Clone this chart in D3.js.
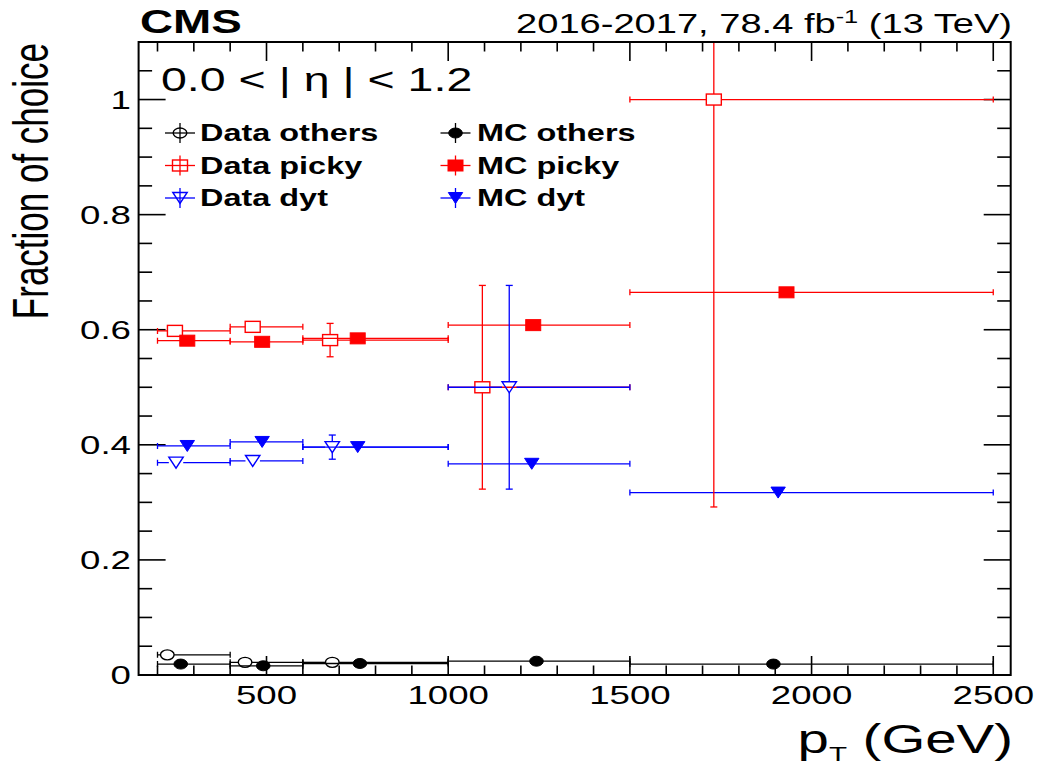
<!DOCTYPE html>
<html>
<head>
<meta charset="utf-8">
<script src="https://cdn.jsdelivr.net/npm/d3@7"></script>
<style>
  html, body { margin: 0; padding: 0; background: #fff; }
  svg { display: block; }
  text { font-family: "Liberation Sans", Arial, Helvetica, sans-serif; }
</style>
</head>
<body>
<svg id="chart" width="1039" height="768"></svg>
<script>
// pT bins (GeV)
const binLow  = [200, 400, 600, 1000, 1500];
const binHigh = [400, 600, 1000, 1500, 2500];

// Data: fraction of muons where each refit was chosen
const dataOthersX   = [227, 441, 681];
const dataOthersY   = [0.035, 0.022, 0.022];
const dataOthersErr = [0.004, 0.004, 0.006];

const dataPickyX   = [248, 462, 675, 1094, 1731];
const dataPickyY   = [0.598, 0.605, 0.582, 0.5, 1.0];
const dataPickyErr = [0.008, 0.008, 0.029, 0.177, 0.708];

const dataDytX   = [251, 462, 681, 1168];
const dataDytY   = [0.369, 0.372, 0.396, 0.5];
const dataDytErr = [0.008, 0.008, 0.021, 0.177];

// Simulation
const mcOthersX = [264, 491, 757, 1243, 1895];
const mcOthersY = [0.019, 0.016, 0.020, 0.024, 0.019];

const mcPickyX = [282, 488, 751, 1234, 1931];
const mcPickyY = [0.581, 0.579, 0.585, 0.608, 0.665];

const mcDytX = [282, 488, 751, 1230, 1908];
const mcDytY = [0.398, 0.405, 0.396, 0.367, 0.317];

// Axis ticks
const xMajorTicks = [500, 1000, 1500, 2000, 2500];
const yMajorTicks = [0, 0.2, 0.4, 0.6, 0.8, 1];
const yTickLabels = ["0", "0.2", "0.4", "0.6", "0.8", "1"];

const RED = "#ff0000", BLUE = "#0000ff", BLACK = "#000000";
const SX = 1.41;   // horizontal text/marker stretch of the canvas

const svg = d3.select("#chart");
const L = 138.6, R = 1010.7, T = 42, B = 675;

const x = d3.scaleLinear().domain([148, 2548]).range([L, R]);
const y = d3.scaleLinear().domain([0, 1.1]).range([B, T]);

svg.append("defs").append("clipPath").attr("id", "frameClip")
  .append("rect").attr("x", L).attr("y", T).attr("width", R - L).attr("height", B - T);

// ---- ticks (inward, on all four sides) ----
const tickG = svg.append("g").attr("stroke", BLACK).attr("stroke-width", 1.6);
const xMinor = d3.range(200, 2501, 100).filter(v => !xMajorTicks.includes(v));
const yMinor = d3.range(0.05, 1.1, 0.05).map(v => +v.toFixed(2)).filter(v => !yMajorTicks.some(m => Math.abs(m - v) < 1e-6));

function xTick(v, len) {
  tickG.append("line").attr("x1", x(v)).attr("x2", x(v)).attr("y1", B).attr("y2", B - len);
  tickG.append("line").attr("x1", x(v)).attr("x2", x(v)).attr("y1", T).attr("y2", T + len);
}
function yTick(v, len) {
  tickG.append("line").attr("x1", L).attr("x2", L + len).attr("y1", y(v)).attr("y2", y(v));
  tickG.append("line").attr("x1", R).attr("x2", R - len).attr("y1", y(v)).attr("y2", y(v));
}
xMajorTicks.forEach(v => xTick(v, 19));
xMinor.forEach(v => xTick(v, 9.5));
yMajorTicks.forEach(v => yTick(v, 27));
yMinor.forEach(v => yTick(v, 13.5));

// ---- stretched text helper ----
function label(g, str, px, py, size, anchor, weight) {
  return g.append("text")
    .attr("transform", `translate(${px},${py}) scale(${SX},1)`)
    .attr("text-anchor", anchor || "start")
    .attr("font-size", size)
    .attr("font-weight", weight || "normal")
    .attr("fill", BLACK)
    .text(str);
}

const textG = svg.append("g");
xMajorTicks.forEach(v => label(textG, String(v), x(v), 704, 26, "middle"));
yMajorTicks.forEach((v, i) => label(textG, yTickLabels[i], 131, y(v) + 9, 26, "end"));

// ---- marker shapes ----
const MK = {
  circle:   { hw: 6.8, hh: 5 },
  square:   { hw: 7.5, hh: 5.5 },
  triangle: { hw: 7.2, hh: 5.5 }
};
function marker(g, type, cx, cy, color, filled) {
  const m = MK[type];
  let el;
  if (type === "circle") {
    el = g.append("ellipse").attr("cx", cx).attr("cy", cy).attr("rx", m.hw).attr("ry", m.hh);
  } else if (type === "square") {
    el = g.append("rect").attr("x", cx - m.hw).attr("y", cy - m.hh).attr("width", 2 * m.hw).attr("height", 2 * m.hh);
  } else {
    el = g.append("path").attr("d", `M${cx - m.hw},${cy - m.hh}L${cx + m.hw},${cy - m.hh}L${cx},${cy + m.hh}Z`);
  }
  el.attr("fill", filled ? color : "none")
    .attr("stroke", color)
    .attr("stroke-width", filled ? 1 : 1.4);
}

// ---- series drawing ----
const plotG = svg.append("g").attr("clip-path", "url(#frameClip)");

function seg(g, x1, y1, x2, y2, color) {
  if (Math.abs(x2 - x1) < 0.5 && Math.abs(y2 - y1) < 0.5) return;
  g.append("line").attr("x1", x1).attr("y1", y1).attr("x2", x2).attr("y2", y2)
    .attr("stroke", color).attr("stroke-width", 1.3);
}

function drawSeries(xs, ys, errs, color, type, filled) {
  const g = plotG.append("g");
  const m = MK[type];
  const gapW = filled ? 0 : m.hw, gapH = filled ? 0 : m.hh;
  xs.forEach((xv, i) => {
    const cx = x(xv), cy = y(ys[i]);
    const xl = x(binLow[i]), xh = x(binHigh[i]);
    // horizontal (bin width) error with end caps
    seg(g, xl, cy, cx - gapW, cy, color);
    seg(g, cx + gapW, cy, xh, cy, color);
    seg(g, xl, cy - 3, xl, cy + 3, color);
    seg(g, xh, cy - 3, xh, cy + 3, color);
    // vertical (statistical) error with end caps
    if (errs) {
      const yt = y(ys[i] + errs[i]), yb = y(ys[i] - errs[i]);
      if (cy - yt > gapH + 0.5) {
        seg(g, cx, yt, cx, cy - gapH, color);
        seg(g, cx - 3.5, yt, cx + 3.5, yt, color);
      }
      if (yb - cy > gapH + 0.5) {
        seg(g, cx, cy + gapH, cx, yb, color);
        seg(g, cx - 3.5, yb, cx + 3.5, yb, color);
      }
    }
    marker(g, type, cx, cy, color, filled);
  });
}

drawSeries(mcOthersX, mcOthersY, null, BLACK, "circle", true);
drawSeries(mcPickyX, mcPickyY, null, RED, "square", true);
drawSeries(mcDytX, mcDytY, null, BLUE, "triangle", true);
drawSeries(dataOthersX, dataOthersY, dataOthersErr, BLACK, "circle", false);
drawSeries(dataPickyX, dataPickyY, dataPickyErr, RED, "square", false);
drawSeries(dataDytX, dataDytY, dataDytErr, BLUE, "triangle", false);

// ---- frame ----
svg.append("rect").attr("x", L).attr("y", T).attr("width", R - L).attr("height", B - T)
  .attr("fill", "none").attr("stroke", BLACK).attr("stroke-width", 2);

// ---- legend ----
const legendEntries = [
  { name: "Data others", color: BLACK, type: "circle",   filled: false, col: 0, row: 0 },
  { name: "Data picky",  color: RED,   type: "square",   filled: false, col: 0, row: 1 },
  { name: "Data dyt",    color: BLUE,  type: "triangle", filled: false, col: 0, row: 2 },
  { name: "MC others",   color: BLACK, type: "circle",   filled: true,  col: 1, row: 0 },
  { name: "MC picky",    color: RED,   type: "square",   filled: true,  col: 1, row: 1 },
  { name: "MC dyt",      color: BLUE,  type: "triangle", filled: true,  col: 1, row: 2 }
];
const legG = svg.append("g");
const colMarkX = [180, 455.5], colTextX = [200, 477];
const rowY = [133, 165.5, 198];
legendEntries.forEach(e => {
  const cx = colMarkX[e.col], cy = rowY[e.row];
  seg(legG, cx - 15, cy, cx + 15, cy, e.color);
  seg(legG, cx, cy - 10, cx, cy + 10, e.color);
  marker(legG, e.type, cx, cy, e.color, e.filled);
  label(legG, e.name, colTextX[e.col], cy + 8, 23, "start", "bold");
});

// ---- header texts ----
label(textG, "CMS", 140, 33, 32.5, "start", "bold");
const lumi = textG.append("text")
  .attr("transform", `translate(1012,33) scale(${SX},1)`)
  .attr("text-anchor", "end").attr("font-size", 27).attr("fill", BLACK);
lumi.append("tspan").text("2016-2017, 78.4 fb");
lumi.append("tspan").attr("font-size", 18).attr("dy", -10).text("-1");
lumi.append("tspan").attr("dy", 10).text(" (13 TeV)");

label(textG, "0.0 < | η | < 1.2", 161, 90.5, 33, "start");

// ---- axis titles ----
const xt = textG.append("text")
  .attr("transform", `translate(1013,753) scale(${SX},1)`)
  .attr("text-anchor", "end").attr("font-size", 40).attr("fill", BLACK);
xt.append("tspan").text("p");
xt.append("tspan").attr("font-size", 21).attr("dy", 8).text("T");
xt.append("tspan").attr("dy", -8).text(" (GeV)");

textG.append("text")
  .attr("transform", `translate(48,43) rotate(-90) scale(1,${SX})`)
  .attr("text-anchor", "end").attr("font-size", 35).attr("fill", BLACK)
  .text("Fraction of choice");
</script>
</body>
</html>
